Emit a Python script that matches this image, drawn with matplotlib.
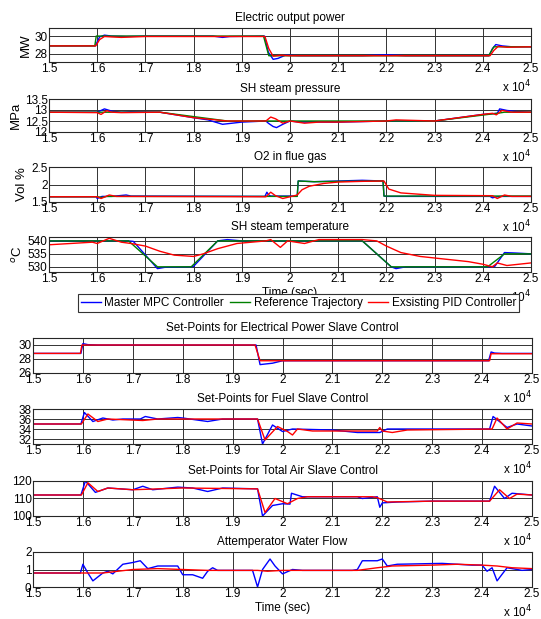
import matplotlib
matplotlib.use("Agg")
import matplotlib.pyplot as plt
from matplotlib.ticker import FuncFormatter

plt.rcParams['font.family'] = ['Liberation Sans', 'DejaVu Sans']

# ---- Electric output power (MW)
power_ref_t = [15000, 15950, 15980, 19450, 19560, 24120, 24230, 25000]
power_ref = [28.9, 28.9, 30.0, 30.0, 27.8, 27.8, 28.8, 28.8]
power_mpc_t = [15000, 15960, 16050, 16150, 16300, 16600, 17000, 18400, 18600, 18750, 19470, 19550,
               19650, 19750, 19900, 20200, 21500, 22000, 22400, 24130, 24200, 24270, 24400, 24600, 25000]
power_mpc = [28.9, 28.9, 29.9, 30.1, 30.0, 29.95, 30.0, 30.0, 29.85, 29.95, 30.0, 28.2,
             27.4, 27.5, 27.85, 27.8, 27.8, 27.9, 27.8, 27.8, 28.6, 29.05, 28.9, 28.8, 28.8]
power_pid_t = [15000, 15970, 16050, 16150, 16300, 16500, 17000, 19480, 19560, 19650, 19800, 20000,
               20300, 24150, 24230, 24320, 24500, 25000]
power_pid = [28.9, 28.9, 29.6, 29.95, 29.9, 29.85, 29.95, 29.95, 28.6, 27.75, 27.85, 27.8,
             27.8, 27.8, 28.4, 28.85, 28.75, 28.8]

# ---- SH steam pressure (MPa)
press_ref_t = [15000, 17300, 18700, 23000, 24300, 24450, 25000]
press_ref = [12.9, 12.9, 12.5, 12.5, 12.85, 12.9, 12.9]
press_mpc_t = [15000, 16000, 16100, 16150, 16300, 16500, 16700, 17300, 18000, 18300, 18600, 18800,
               19000, 19500, 19550, 19650, 19720, 19850, 20000, 20200, 21000, 22000, 23000, 24000,
               24300, 24350, 24500, 24700, 25000]
press_mpc = [12.9, 12.9, 13.0, 13.05, 12.95, 12.9, 12.92, 12.9, 12.65, 12.55, 12.35, 12.4,
             12.45, 12.5, 12.4, 12.25, 12.2, 12.35, 12.5, 12.45, 12.45, 12.5, 12.5, 12.8,
             12.85, 13.05, 12.98, 12.93, 12.9]
press_pid_t = [15000, 16000, 16080, 16200, 16300, 16500, 17300, 18000, 18700, 19500, 19600, 19700,
               19850, 20000, 20300, 20600, 21000, 22000, 22200, 23000, 24000, 24200, 24280, 24400,
               24600, 25000]
press_pid = [12.9, 12.88, 12.8, 12.97, 12.9, 12.88, 12.9, 12.65, 12.5, 12.5, 12.68, 12.6,
             12.4, 12.5, 12.4, 12.45, 12.45, 12.5, 12.55, 12.5, 12.8, 12.85, 12.78, 12.98,
             12.9, 12.9]

# ---- O2 in flue gas (Vol %)
o2_ref_t = [15000, 16000, 16100, 16200, 20150, 20170, 20500, 21000, 21930, 21950, 25000]
o2_ref = [1.65, 1.65, 1.63, 1.66, 1.66, 2.1, 2.08, 2.09, 2.1, 1.67, 1.67]
o2_mpc_t = [15000, 15980, 16000, 16100, 16300, 16600, 16700, 19480, 19520, 19560, 19600, 20150,
            20170, 20500, 21000, 21500, 21930, 21950, 22000, 24150, 24200, 24300, 24400, 25000]
o2_mpc = [1.65, 1.65, 1.6, 1.66, 1.66, 1.7, 1.67, 1.66, 1.78, 1.7, 1.67, 1.67,
          2.1, 2.08, 2.1, 2.12, 2.1, 1.67, 1.66, 1.66, 1.62, 1.65, 1.66, 1.66]
o2_pid_t = [15000, 16000, 16080, 16250, 16400, 19500, 19600, 19700, 19850, 20000, 20150, 20250,
            20400, 20700, 21000, 21500, 21950, 22050, 22300, 22600, 23000, 24200, 24300, 24450,
            24600, 25000]
o2_pid = [1.65, 1.65, 1.6, 1.7, 1.66, 1.65, 1.78, 1.68, 1.6, 1.65, 1.7, 1.85,
          1.95, 2.03, 2.07, 2.09, 2.1, 1.87, 1.76, 1.73, 1.69, 1.68, 1.6, 1.7,
          1.66, 1.66]

# ---- SH steam temperature (C)
temp_ref_t = [15000, 16650, 17250, 17950, 18500, 21500, 22100, 24100, 24450, 25000]
temp_ref = [540, 540, 530, 530, 540, 540, 530, 530, 535, 535]
temp_mpc_t = [15000, 16650, 16750, 17250, 17400, 17950, 18000, 18500, 18700, 19000, 21500, 22100,
              22200, 22400, 24150, 24250, 24450, 24700, 25000]
temp_mpc = [540, 540, 539.8, 529.3, 529.8, 530, 530.2, 540, 540.5, 540, 540, 530,
            529.3, 530, 530, 530.2, 535.5, 535.3, 535]
temp_pid_t = [15000, 15900, 16000, 16250, 16500, 16700, 17000, 17300, 17600, 18000, 18200, 18500,
              18900, 19200, 19500, 19600, 19800, 19950, 20300, 20600, 21500, 21800, 22000, 22300,
              22700, 23200, 23700, 24000, 24200, 24300, 24500, 24750, 25000]
temp_pid = [538.5, 539.5, 539, 541, 539.5, 539, 538, 536, 534.5, 534, 535, 537,
            539, 539.5, 540, 540.5, 537.5, 540, 539, 540.5, 540.5, 540, 538, 535.5,
            534, 533, 532, 531, 530, 531.5, 530.5, 531, 531.5]

# ---- Set-points for electrical power slave control
sp_pow_mpc_t = [15000, 15960, 16000, 16100, 16300, 19470, 19550, 19800, 20000, 24130, 24180,
                24250, 24400, 25000]
sp_pow_mpc = [28.8, 28.8, 30.2, 30.05, 30.0, 30.0, 27.2, 27.4, 27.75, 27.75, 29.0, 28.85, 28.8, 28.8]
sp_pow_pid_t = [15000, 15950, 15980, 19450, 19550, 24150, 24180, 25000]
sp_pow_pid = [28.8, 28.8, 30.0, 30.0, 27.75, 27.75, 28.75, 28.75]

# ---- Set-points for fuel slave control
sp_fuel_mpc_t = [15000, 15960, 16030, 16200, 16400, 16600, 16800, 17150, 17250, 17500, 17900, 18000,
                 18500, 18800, 19500, 19600, 19800, 20000, 20200, 21000, 21500, 21950, 22100,
                 24150, 24220, 24500, 24700, 25000]
sp_fuel_mpc = [35, 35, 37.3, 35.5, 36.2, 35.8, 36, 36, 36.5, 36.0, 36.3, 36.2,
               35.5, 36, 36, 31.0, 34.8, 33.5, 34, 33.8, 33.3, 33.3, 34,
               34, 36.5, 34.3, 35, 34.6]
sp_fuel_pid_t = [15000, 15970, 16100, 16300, 16500, 17200, 17500, 19500, 19650, 19900, 20100,
                 20200, 20300, 20600, 21900, 21950, 22000, 22200, 22500, 24200, 24300, 24500,
                 24700, 25000]
sp_fuel_pid = [35, 35, 37, 35.5, 36, 35.7, 36, 36, 31.8, 34.5, 33.5,
               32.8, 34, 33.6, 33.6, 34.3, 33.6, 33.3, 33.8, 34, 36.2, 34,
               35.2, 35]

# ---- Set-points for total air slave control
sp_air_mpc_t = [15000, 15960, 16050, 16250, 16500, 17000, 17200, 17400, 17900, 18200, 18500, 18800,
                19500, 19600, 19800, 20000, 20150, 20180, 20400, 21500, 21600, 21900, 21950,
                22000, 22300, 23000, 24150, 24250, 24450, 24600, 25000]
sp_air_mpc = [112, 112, 120, 113.5, 116, 115, 117, 115, 116.5, 116, 114, 116,
              115.5, 100, 106, 107, 106.8, 113, 111, 111, 110, 111, 105,
              107.5, 108, 108.5, 108.5, 117, 110, 113, 112]
sp_air_pid_t = [15000, 15970, 16100, 16300, 16500, 17000, 18000, 19500, 19650, 19850, 20100,
                20300, 20500, 21800, 21900, 22100, 23000, 24150, 24350, 24550, 24700, 25000]
sp_air_pid = [112, 112, 119, 114, 116, 115, 116, 115.5, 102, 110, 107,
              110, 111, 111, 110.5, 108, 108.5, 108.5, 115, 110, 112.5, 112]

# ---- Attemperator water flow
att_mpc_t = [15000, 15950, 16000, 16100, 16200, 16400, 16500, 16600, 16800, 17000, 17150, 17300,
             17500, 17900, 18000, 18200, 18400, 18500, 18600, 18700, 19400, 19500, 19600, 19750,
             19850, 20000, 20200, 20400, 21400, 21500, 21600, 21900, 22000, 22100, 22300, 23200,
             23800, 24000, 24100, 24200, 24300, 24500, 24800, 25000]
att_mpc = [0.8, 0.8, 1.3, 0.8, 0.35, 0.8, 0.9, 0.75, 1.3, 1.4, 1.5, 1.05,
           1.2, 1.2, 0.7, 0.7, 0.5, 0.9, 1.1, 0.95, 0.95, 0.0, 1.0, 1.6,
           1.2, 0.75, 1.0, 0.95, 0.95, 1.0, 1.5, 1.5, 1.6, 1.2, 1.3, 1.35,
           1.25, 1.25, 0.9, 1.1, 0.35, 1.1, 0.95, 1.0]
att_pid_t = [15000, 16400, 17000, 17500, 18000, 18500, 19500, 19700, 20000, 21500, 21900, 22200,
             23000, 23500, 24000, 24300, 24600, 25000]
att_pid = [0.8, 0.8, 1.0, 1.05, 1.0, 0.95, 0.95, 0.9, 0.95, 0.95, 1.1, 1.2,
           1.25, 1.3, 1.25, 1.2, 1.1, 1.05]

W, H = 541, 619
BLUE, GREEN, RED = '#0000ff', '#008000', '#ff0000'
FS = 8.5


def make_axes(fig, left, right, top, bottom):
    ax = fig.add_axes([left / W, 1 - bottom / H, (right - left) / W, (bottom - top) / H])
    ax.set_xlim(15000, 25000)
    ax.set_xticks(range(15000, 25001, 1000))
    ax.xaxis.set_major_formatter(FuncFormatter(lambda v, p: f'{v / 1e4:g}'))
    ax.tick_params(length=0, labelsize=FS, pad=1)
    ax.grid(True, color='0.2', linewidth=0.7)
    for s in ax.spines.values():
        s.set_color('0.15')
        s.set_linewidth(0.8)
    ax.annotate('x 10$^4$', xy=(1, 0), xycoords='axes fraction', xytext=(0, -12),
                textcoords='offset points', ha='right', va='top', fontsize=FS)
    return ax


fig = plt.figure(figsize=(W / 100, H / 100), dpi=100)

top_panels = [
    ('Electric output power', 'MW', (27.1, 30.9), [28, 30], power_mpc_t, power_mpc,
     power_ref_t, power_ref, power_pid_t, power_pid, 28, 62),
    ('SH steam pressure', 'MPa', (12, 13.5), [12, 12.5, 13, 13.5], press_mpc_t, press_mpc,
     press_ref_t, press_ref, press_pid_t, press_pid, 99, 132),
    ('O2 in flue gas', 'Vol %', (1.5, 2.5), [1.5, 2, 2.5], o2_mpc_t, o2_mpc,
     o2_ref_t, o2_ref, o2_pid_t, o2_pid, 167, 202),
    ('SH steam temperature', '$^o$C', (528, 541.5), [530, 535, 540], temp_mpc_t, temp_mpc,
     temp_ref_t, temp_ref, temp_pid_t, temp_pid, 237, 272),
]

for title, ylab, ylim, yt, mt, mv, rt, rv, pt, pv, top, bottom in top_panels:
    ax = make_axes(fig, 49, 531, top, bottom)
    ax.plot(mt, mv, color=BLUE, lw=1)
    ax.plot(rt, rv, color=GREEN, lw=1)
    ax.plot(pt, pv, color=RED, lw=1)
    ax.set_ylim(*ylim)
    ax.set_yticks(yt)
    ax.yaxis.set_major_formatter(FuncFormatter(lambda v, p: f'{v:g}'))
    ax.set_title(title, fontsize=FS, pad=5)
    ax.set_ylabel(ylab, fontsize=FS + 1, labelpad=2)
    last = ax

last.set_xlabel('Time (sec)', fontsize=FS, labelpad=1)

h = [plt.Line2D([], [], color=c, lw=1) for c in (BLUE, GREEN, RED)]
leg = fig.legend(h, ['Master MPC Controller', 'Reference Trajectory', 'Exsisting PID Controller'],
                 loc='center', bbox_to_anchor=(298.5 / W, 1 - 303 / H), ncol=3, fontsize=FS,
                 frameon=True, fancybox=False, edgecolor='0.2', framealpha=1,
                 handlelength=1.7, columnspacing=0.5, handletextpad=0.3, borderpad=0.25,
                 borderaxespad=0)
leg.get_frame().set_linewidth(0.8)

bottom_panels = [
    ('Set-Points for Electrical Power Slave Control', (26, 31), [26, 28, 30],
     sp_pow_mpc_t, sp_pow_mpc, sp_pow_pid_t, sp_pow_pid, 338, 373),
    ('Set-Points for Fuel Slave Control', (31, 38), [32, 34, 36, 38],
     sp_fuel_mpc_t, sp_fuel_mpc, sp_fuel_pid_t, sp_fuel_pid, 409, 444),
    ('Set-Points for Total Air Slave Control', (100, 120), [100, 110, 120],
     sp_air_mpc_t, sp_air_mpc, sp_air_pid_t, sp_air_pid, 481, 516),
    ('Attemperator Water Flow', (0, 2), [0, 1, 2],
     att_mpc_t, att_mpc, att_pid_t, att_pid, 552, 587),
]

for title, ylim, yt, mt, mv, pt, pv, top, bottom in bottom_panels:
    ax = make_axes(fig, 33, 532, top, bottom)
    ax.plot(mt, mv, color=BLUE, lw=1)
    ax.plot(pt, pv, color=RED, lw=1)
    ax.set_ylim(*ylim)
    ax.set_yticks(yt)
    ax.set_title(title, fontsize=FS, pad=5)
    last = ax

last.set_xlabel('Time (sec)', fontsize=FS, labelpad=1)

fig.savefig('out.png', dpi=100)
